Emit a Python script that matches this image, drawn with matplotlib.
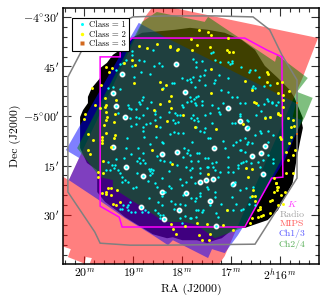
import matplotlib
matplotlib.use("Agg")
import matplotlib.pyplot as plt
from matplotlib.patches import Polygon
from matplotlib.lines import Line2D

plt.rcParams['font.family'] = ['cmr10', 'DejaVu Serif']
plt.rcParams['mathtext.fontset'] = 'cm'
plt.rcParams['axes.unicode_minus'] = False
plt.rcParams['axes.formatter.use_mathtext'] = True

# (RA minutes of 2h, Dec arcmin below -4 deg)
blob = [(19.27,-40),(19.42,-41.5),(19.54,-43.9),(19.68,-45.5),(19.68,-48.5),(19.85,-51.5),(19.93,-54.2),(19.93,-56.1),
        (20.03,-58.2),(20.09,-60.3),(20.09,-69.7),(19.95,-74.2),(19.74,-76.4),(19.74,-83),(19.58,-86),(19.27,-89.4),
        (19.17,-90.6),(18.60,-95.8),(18.31,-97),(18.19,-96.7),(18.0,-97.6),(17.70,-97.6),(17.49,-98.5),(17.33,-97.6),
        (17.19,-97),(16.98,-94.5),(16.86,-93.9),(16.72,-93.9),
        (16.25,-91.5),(16.04,-88.5),(15.74,-80.3),(15.66,-73.3),(15.59,-67.9),(15.53,-63.6),(15.55,-62.1),(15.53,-60.6),
        (15.70,-54.5),(15.80,-52.1),(16.04,-48.5),(16.31,-44.8),(16.51,-40),(16.78,-37),
        (17.13,-34.8),(17.47,-33.9),(17.84,-33.3),(18.15,-33.9),(18.82,-34.8),(19.03,-36.4)]
mips = [(20.5,-77.9),(20.32,-79.4),(18.76,-30),(18.56,-26.1),(15.22,-36.4),(15.53,-48.2),(17.13,-102.4),(17.27,-105.4),(19.91,-105.4),
        (19.85,-103),(19.97,-102.7),(20.01,-105.4),(20.03,-104.5),(20.34,-102.7),(20.28,-100.3),(20.40,-99.7),(20.5,-99.4)]
ch13 = [(18.89,-31.8),(18.35,-36.1),(15.67,-56.1),(15.74,-60.3),(15.55,-61.2),(15.90,-73.3),(16.86,-96.1),(17.13,-101.5),
        (17.39,-100.3),(17.47,-103),(18.19,-97.6),(18.29,-99.1),(18.60,-96.1),(19.17,-90.9),(19.74,-85.1),(20.32,-79.4),
        (20.11,-72.7),(20.38,-70.3)]
ch24 = [(18.82,-31.5),(18.52,-28.5),(17.54,-31.5),(17.47,-30),(16.10,-43.6),(16.06,-41.5),(15.43,-48.5),(15.65,-52.7),
        (15.33,-54.5),(15.49,-60.3),(16.72,-93.6),(17.33,-97),(17.70,-93),(17.95,-92.1),(18.35,-92.1),(19.42,-81.8),
        (19.42,-79.4),(19.68,-78.5),(19.91,-74.2),(20.15,-69.7)]
radio = [(20.34,-48.2),(20.05,-40),(19.79,-35.5),(19.01,-30),(18.35,-29.7),(17.33,-29.7),(16.55,-30),(16.21,-33.9),
         (15.96,-41.5),(15.65,-49.1),(15.65,-78.8),(16.51,-98.8),(18.35,-99.1),(19.07,-99.1),(19.68,-98.5),(19.79,-95.1),(20.34,-83)]
kband = [(19.68,-42.1),(19.27,-42.1),(19.27,-40),(19.03,-36.4),(16.72,-36.4),(16.27,-40),(15.96,-42.1),(15.94,-78.5),
         (16.17,-78.8),(16.72,-93.6),(19.23,-93.6),(19.29,-90.6),(19.68,-87.3)]

class1 = [(19.02,-40.2),(19.02,-41.4),(18.59,-40.0),(19.16,-43.1),(18.78,-43.2),(18.88,-43.0),(19.27,-44.2),(19.21,-44.0),
 (19.02,-44.8),(18.57,-45.0),(18.48,-44.0),(18.41,-45.0),(19.36,-46.2),(18.84,-46.8),(18.65,-47.3),(18.99,-48.1),
 (18.17,-49.9),(18.20,-50.1),(17.90,-49.1),(18.00,-48.6),(17.84,-48.8),(19.42,-51.1),(19.27,-51.8),(19.51,-51.4),
 (18.80,-54.3),(18.83,-55.2),(18.88,-55.9),(18.63,-55.9),(19.08,-57.5),(18.95,-57.9),(18.56,-58.4),(18.39,-51.6),
 (19.10,-56.7),(18.86,-56.4),(19.04,-57.9),(18.73,-57.7),(18.56,-59.4),(18.46,-60.2),(18.15,-59.0),(18.10,-59.7),
 (18.05,-59.7),(18.01,-56.7),(17.98,-57.2),(17.90,-55.7),(17.84,-54.1),(19.07,-60.5),(18.95,-60.2),(18.88,-60.7),
 (18.81,-59.7),(18.75,-62.5),(18.95,-62.4),(18.66,-62.2),(19.04,-63.0),(18.56,-61.2),(18.18,-61.2),(18.15,-62.2),
 (18.08,-61.7),(18.80,-63.4),(18.46,-63.4),(19.31,-59.0),(18.28,-58.7),
 (17.42,-40.8),(17.37,-40.6),(17.77,-42.7),(17.60,-43.2),(17.32,-43.0),(17.22,-43.6),(17.07,-43.6),(17.02,-44.2),
 (16.98,-43.2),(16.99,-44.0),(17.72,-43.7),(17.71,-45.3),(17.54,-46.1),(16.79,-45.3),(16.62,-46.1),(16.50,-46.1),
 (16.64,-46.8),(17.56,-47.6),(17.64,-47.8),(17.77,-48.1),(17.24,-47.6),(17.33,-49.1),(17.35,-49.9),(17.07,-48.6),
 (17.54,-50.6),(17.66,-49.1),(17.81,-49.6),(17.74,-51.1),(17.20,-52.1),(17.06,-52.8),(16.99,-54.1),(16.87,-54.3),
 (16.55,-50.9),(16.50,-51.6),(16.33,-50.8),(16.42,-48.1),(16.58,-51.6),(16.21,-50.6),(17.67,-53.9),(17.71,-54.3),
 (17.60,-55.4),(17.76,-55.0),(17.81,-55.4),(17.74,-56.2),(17.72,-56.7),(17.60,-56.7),(17.38,-56.7),(17.16,-56.2),
 (16.82,-56.2),(16.72,-56.2),(16.27,-55.0),(16.24,-55.4),(16.17,-55.9),(16.16,-56.2),(16.04,-55.7),(16.33,-56.4),
 (16.44,-56.7),(16.38,-58.5),(16.21,-60.2),(17.26,-57.7),(17.24,-58.7),(17.43,-59.0),(17.54,-59.7),(17.81,-60.7),
 (17.76,-61.2),(17.67,-61.4),(17.54,-63.7),(17.40,-62.2),(17.23,-59.4),(16.99,-62.0),(16.82,-59.4),(16.82,-60.0),
 (16.68,-61.2),(16.65,-61.5),(16.65,-63.2),(16.07,-56.7),(16.31,-60.4),(16.48,-59.7),(17.72,-63.4),(17.69,-60.7),
 (17.77,-59.7),(16.92,-62.2),
 (18.80,-64.4),(18.54,-66.3),(18.25,-65.5),(18.08,-65.2),(17.99,-65.0),(18.17,-64.7),(18.78,-66.3),(19.14,-66.8),
 (18.39,-68.3),(18.66,-68.6),(18.42,-67.8),(18.91,-69.8),(19.16,-69.8),(19.04,-71.5),(18.80,-71.1),(19.19,-72.8),
 (19.36,-73.1),(19.51,-73.8),(19.38,-74.9),(19.44,-74.9),(19.56,-76.4),(19.48,-76.2),(19.40,-75.6),(19.31,-76.4),
 (19.27,-77.2),(19.24,-78.4),(19.10,-79.9),(18.93,-77.4),(18.86,-74.3),(18.80,-73.3),(18.76,-74.3),(18.88,-72.8),
 (18.92,-73.5),(18.68,-75.9),(18.63,-75.9),(18.59,-76.4),(18.66,-76.6),(18.69,-79.6),(18.66,-77.9),(18.61,-77.4),
 (18.28,-76.6),(18.42,-78.9),(18.05,-79.2),(18.56,-80.4),(18.52,-81.4),(18.22,-81.9),(18.28,-81.2),(18.35,-82.9),
 (18.42,-84.1),(18.49,-85.9),(18.42,-87.0),(18.68,-84.9),(18.95,-81.4),(19.00,-81.9),(19.24,-79.9),(19.17,-79.4),
 (17.88,-70.3),(17.84,-71.8),(17.90,-71.3),(17.96,-69.8),(17.99,-72.3),(17.85,-76.4),(17.92,-75.4),(18.11,-74.8),
 (18.24,-73.8),(18.37,-73.5),(18.52,-72.0),(18.46,-73.3),(17.92,-79.9),(18.01,-80.9),(17.99,-83.9),(18.22,-85.6),
 (18.05,-86.5),(18.15,-86.5),(18.17,-88.0),(17.94,-87.0),(18.46,-90.0),(18.39,-90.0),(18.56,-88.5),(19.07,-86.0),
 (19.10,-87.0),(19.14,-87.5),(19.21,-87.0),(19.10,-88.5),(19.04,-89.0),(18.97,-89.0),(18.83,-89.0),(18.76,-88.5),
 (18.69,-89.0),(19.27,-88.3),(19.24,-88.0),
 (17.79,-68.0),(17.47,-66.8),(17.43,-66.8),(17.56,-64.7),(17.64,-64.5),(17.16,-67.6),(16.97,-68.8),(16.82,-67.3),
 (16.89,-67.8),(16.72,-66.8),(16.65,-67.8),(16.68,-68.5),(16.58,-68.1),(16.50,-65.8),(16.39,-65.2),(16.24,-64.4),
 (16.15,-65.8),(16.24,-67.8),(16.41,-64.5),(17.69,-71.1),(17.66,-71.1),(17.54,-72.6),(17.47,-72.8),(17.67,-73.5),
 (17.81,-73.5),(17.13,-69.8),(17.06,-72.3),(16.82,-70.3),(16.72,-70.8),(16.79,-70.3),(16.24,-71.8),(16.15,-73.1),
 (16.34,-73.3),(16.15,-74.3),(17.79,-75.6),(17.64,-75.6),(17.50,-75.4),(17.47,-75.4),(17.38,-74.3),(17.31,-73.8),
 (17.37,-75.4),(17.33,-76.2),(17.06,-75.4),(17.06,-76.9),(16.97,-76.9),(16.85,-74.8),(16.85,-75.6),(16.75,-73.8),
 (16.70,-73.5),(16.60,-74.3),(16.79,-74.3),(16.44,-74.0),(16.41,-75.4),(17.81,-78.4),(17.64,-77.4),(17.23,-76.9),
 (17.26,-78.4),(17.74,-80.2),(16.99,-80.9),(16.92,-79.9),(17.50,-81.6),(17.33,-83.1),(17.64,-83.4),(17.64,-84.2),
 (17.71,-84.9),(17.81,-84.9),(17.47,-82.2),(16.99,-84.4),(16.81,-82.4),(16.70,-81.9),(16.55,-81.4),(16.62,-84.4),
 (16.79,-88.5),(16.75,-88.0),(16.63,-86.5),(16.51,-87.0),(17.20,-86.5),(17.43,-87.0),(17.57,-88.5),(17.60,-89.0),
 (17.71,-88.5),(17.67,-88.5),(17.74,-85.6),(17.71,-90.5),(17.81,-90.8),(17.26,-90.7),(17.33,-84.4),(16.89,-86.5),
 (16.96,-88.5),(18.49,-89.5),(18.46,-91.0),(17.94,-90.3),(17.84,-91.0),(18.05,-91.0),(18.01,-92.5),(17.09,-88.5),(17.30,-89.5)]

class1_ringed = [(18.13,-44.4),(19.23,-47.3),(19.42,-53.1),(19.36,-57.0),(19.17,-60.2),(17.95,-52.8),(17.06,-57.5),
 (16.81,-61.5),(16.68,-63.7),(19.42,-69.5),(18.41,-71.6),(18.10,-70.9),(19.16,-75.5),(18.81,-78.2),(18.41,-82.9),
 (18.84,-87.5),(17.92,-83.2),(18.06,-88.6),(18.38,-91.3),(17.34,-69.7),(16.30,-69.1),(16.38,-71.1),(16.57,-72.0),
 (16.35,-77.5),(17.64,-80.1),(17.52,-79.3),(17.37,-79.0),(16.96,-80.6),(17.44,-85.6),(17.30,-93.3)]

class2 = [(18.89,-38.7),(18.51,-38.2),(18.24,-38.7),(18.25,-39.2),(18.08,-39.8),(18.11,-40.0),(18.73,-39.3),(19.02,-43.0),
 (18.97,-44.5),(18.98,-50.1),(18.45,-49.8),(18.34,-50.7),(18.41,-51.7),(18.28,-55.4),(18.22,-53.8),(18.22,-57.7),
 (18.46,-56.4),(18.58,-58.2),(19.58,-54.6),(19.55,-56.7),(19.36,-55.2),(19.38,-59.4),(19.58,-57.2),(19.56,-58.7),
 (19.53,-60.4),(19.55,-61.2),(19.40,-61.9),(18.32,-61.5),(17.99,-59.7),(18.54,-63.0),
 (19.66,-50.6),(19.57,-45.1),(19.49,-46.6),(19.44,-45.6),(19.99,-59.5),(19.92,-65.3),(19.83,-67.3),(19.65,-66.3),
 (19.64,-68.3),(19.84,-51.6),(19.79,-56.7),(19.68,-57.7),(19.61,-62.7),(20.02,-61.0),(19.89,-71.5),(19.92,-70.3),
 (19.73,-76.9),(19.72,-78.4),(19.65,-83.2),(19.56,-82.9),(19.56,-83.6),(19.51,-81.9),(19.46,-81.9),(19.46,-83.8),
 (19.34,-82.5),(19.41,-86.7),(19.36,-87.0),(19.28,-86.0),
 (17.69,-38.5),(17.43,-39.0),(17.79,-40.0),(17.08,-40.0),(17.04,-40.7),(16.96,-40.7),(17.42,-45.9),(16.26,-46.8),
 (16.24,-47.4),(16.26,-49.8),(16.06,-50.1),(16.72,-49.3),(16.57,-52.1),(17.42,-53.1),(16.53,-55.7),(16.49,-56.2),
 (16.04,-59.4),(16.30,-60.5),(16.21,-60.4),(17.74,-63.4),(17.30,-64.0),(16.75,-62.4),(16.03,-52.9),
 (15.95,-49.6),(15.82,-52.3),(15.93,-53.6),(15.93,-55.1),(15.93,-57.4),(16.04,-59.2),(16.00,-59.7),(15.83,-60.7),
 (15.73,-61.2),(15.78,-63.2),(15.71,-63.0),(16.00,-66.3),(15.97,-67.1),(15.82,-68.1),(15.78,-66.5),
 (17.66,-34.0),(17.47,-34.5),(17.41,-35.5),(17.81,-36.8),(17.07,-36.5),(19.19,-44.0),
 (18.18,-94.3),(18.12,-95.6),(17.94,-93.3),(17.69,-92.3),(17.50,-92.7),(17.65,-96.1),(17.60,-97.4),(17.45,-97.4),
 (17.43,-95.7),(17.16,-93.0),(16.96,-94.5),(18.22,-92.7),
 (15.87,-77.4),(15.73,-77.4),(16.07,-80.4),(16.04,-81.4),(15.90,-82.9),(15.97,-83.9),(16.17,-85.5),(15.93,-86.5),
 (16.04,-87.0),(16.41,-87.5),(16.34,-90.0),(16.45,-90.5),(16.57,-91.0),(16.61,-92.5),(15.83,-73.3),(15.73,-71.8),
 (15.70,-70.3),(15.87,-70.8),
 (17.47,-77.7),(16.70,-75.7),(16.57,-76.0),(16.66,-78.4),(16.21,-85.6),(16.12,-78.9),(16.08,-80.2),(16.06,-81.4),
 (16.12,-82.9),(16.06,-82.4),(16.50,-84.1),(16.55,-82.4),(17.08,-88.5),(16.41,-88.0),(16.44,-88.5),(16.21,-89.5),
 (16.38,-90.3),(16.58,-84.2),(16.50,-85.8),
 (19.56,-65.0),(19.38,-65.7),(19.65,-67.3),(19.46,-69.5),(18.61,-70.3),(18.20,-74.6),(19.63,-73.5),(19.63,-77.2),(19.40,-66.8)]

class3 = [(15.65,-56.0),(15.65,-65.3)]

x_ticks = [20, 19, 18, 17, 16]
x_labels = ['$20^m$', '$19^m$', '$18^m$', '$17^m$', '$2^h16^m$']
x_minor = [20.4, 20.2, 19.8, 19.6, 19.4, 19.2, 18.8, 18.6, 18.4, 18.2, 17.8, 17.6, 17.4, 17.2, 16.8, 16.6, 16.4, 16.2, 15.8, 15.6, 15.4]
y_ticks = [-30, -45, -60, -75, -90]
y_labels = [r"$-4^{\circ}30'$", r"$45'$", r"$-5^{\circ}00'$", r"$15'$", r"$30'$"]
y_minor = [v for v in range(-102, -27, 3) if v % 15 != 0]
footprints = ['$K$', 'Radio', 'MIPS', 'Ch1/3', 'Ch2/4']
footprint_colors = ['#ff3cff', '#a0a0a0', '#ff5a5a', '#5a5aff', '#5ab05a']

fig = plt.figure(figsize=(3.27, 3.03), dpi=100)
ax = fig.add_axes([63/327, 1-264/303, 256/327, 256/303])
ax.set_xlim(20.44, 15.2)
ax.set_ylim(-104.8, -27.3)

ax.add_patch(Polygon(blob, closed=True, fc='black', ec='none', zorder=1))
ax.add_patch(Polygon(mips, closed=True, fc='#ff0000', ec='none', alpha=0.5, zorder=2))
ax.add_patch(Polygon(ch13, closed=True, fc='#0000ff', ec='none', alpha=0.5, zorder=3))
ax.add_patch(Polygon(ch24, closed=True, fc='#008000', ec='none', alpha=0.5, zorder=4))
ax.add_patch(Polygon(radio, closed=True, fc='none', ec='#808080', lw=1.1, zorder=5))
ax.add_patch(Polygon(kband, closed=True, fc='none', ec='#ff00ff', lw=1.1, zorder=6))

def xy(pts):
    return [p[0] for p in pts], [p[1] for p in pts]

ax.scatter(*xy(class1_ringed), s=17, c='white', edgecolors='#909090', linewidths=0.25, zorder=7)
ax.scatter(*xy(class1), s=3, c='#00ffff', linewidths=0, zorder=8)
ax.scatter(*xy(class1_ringed), s=3, c='#00ffff', linewidths=0, zorder=8)
ax.scatter(*xy(class2), s=4.5, c='#ffff00', linewidths=0, zorder=8)
ax.scatter(*xy(class3), s=4.5, c='#d2691e', marker='s', linewidths=0, zorder=8)

ax.set_xticks(x_ticks)
ax.set_xticklabels(x_labels, fontsize=8.5)
ax.set_yticks(y_ticks)
ax.set_yticklabels(y_labels, fontsize=8.5)
ax.set_xticks(x_minor, minor=True)
ax.set_yticks(y_minor, minor=True)
ax.tick_params(which='major', direction='in', top=True, right=True, length=6, width=0.8, color='#333333', pad=2.5)
ax.tick_params(which='minor', direction='in', top=True, right=True, length=3, width=0.8, color='#333333')
for s in ax.spines.values():
    s.set_linewidth(1.1)
    s.set_zorder(20)

ax.set_xlabel('RA (J2000)', fontsize=8.5, labelpad=1)
ax.set_ylabel('Dec (J2000)', fontsize=8.5, labelpad=1)

for name, col, yf in zip(footprints, footprint_colors, [0.2345, 0.1915, 0.1565, 0.1175, 0.078]):
    ax.text(0.895, yf, name, color=col, fontsize=7, ha='center', va='center', transform=ax.transAxes, zorder=9)

handles = [Line2D([], [], ls='none', marker='o', ms=2.2, mfc='#00ffff', mec='none'),
           Line2D([], [], ls='none', marker='o', ms=2.5, mfc='#ffff00', mec='none'),
           Line2D([], [], ls='none', marker='s', ms=2.5, mfc='#d2691e', mec='none')]
leg = ax.legend(handles, ['Class = 1', 'Class = 2', 'Class = 3'], loc='upper left', bbox_to_anchor=(0.035, 0.961),
                fontsize=6.3, frameon=True, fancybox=False, framealpha=1, edgecolor='black', borderaxespad=0,
                borderpad=0.35, labelspacing=0.12, handletextpad=0.1, handlelength=1.5)
leg.get_frame().set_linewidth(0.8)
leg.set_zorder(15)

fig.savefig('out.png', dpi=100)
